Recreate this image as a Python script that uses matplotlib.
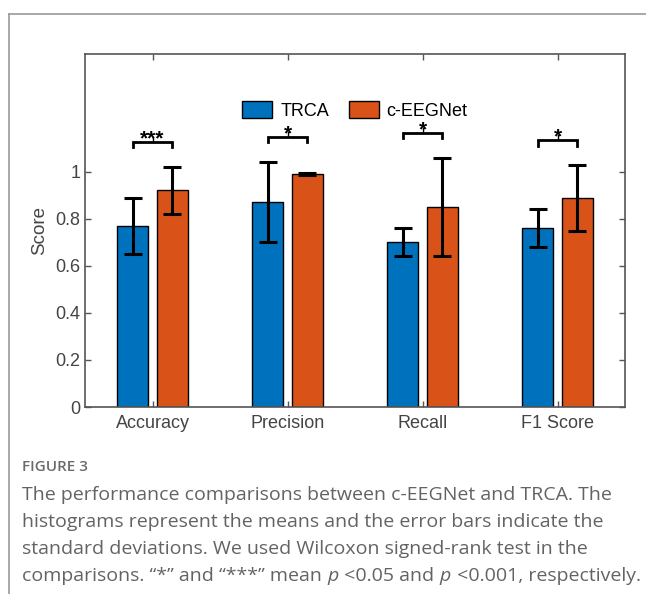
import numpy as np
import matplotlib
matplotlib.use("Agg")
import matplotlib.pyplot as plt
from matplotlib.lines import Line2D

# data
metrics = ["Accuracy", "Precision", "Recall", "F1 Score"]
trca_mean = [0.77, 0.87, 0.70, 0.76]
trca_std = [0.12, 0.17, 0.06, 0.08]
ceeg_mean = [0.92, 0.99, 0.85, 0.89]
ceeg_std = [0.10, 0.005, 0.21, 0.14]
sig_marks = ["***", "*", "*", "*"]
bracket_y = [1.128, 1.149, 1.166, 1.136]

blue = "#0072BD"
orange = "#D95319"
axcol = "#555555"

plt.rcParams["font.family"] = ["Liberation Sans", "DejaVu Sans"]

fig = plt.figure(figsize=(6.46, 5.94), dpi=100)
W, H = 646, 594

# card border (top and left)
fig.add_artist(Line2D([9 / W, 1], [1 - 14 / H, 1 - 14 / H], color="#9a9a9a", lw=1.2))
fig.add_artist(Line2D([9 / W, 9 / W], [0, 1 - 14 / H], color="#9a9a9a", lw=1.2))

ax = fig.add_axes([85 / W, 1 - 407 / H, 540 / W, 353 / H])

x = np.arange(1, len(metrics) + 1)
off = 0.145
bw = 0.23
err_kw = dict(ecolor="black", elinewidth=2.2, capsize=6.5, capthick=2.2)
ax.bar(x - off, trca_mean, bw, yerr=trca_std, color=blue, edgecolor="black",
       lw=1.0, label="TRCA", error_kw=err_kw)
ax.bar(x + off, ceeg_mean, bw, yerr=ceeg_std, color=orange, edgecolor="black",
       lw=1.0, label="c-EEGNet", error_kw=err_kw)

# significance brackets
tip = 0.025
for xc, yb, s in zip(x, bracket_y, sig_marks):
    ax.plot([xc - off, xc - off, xc + off, xc + off], [yb - tip, yb, yb, yb - tip],
            color="black", lw=2.0, solid_joinstyle="miter")
    ax.plot([xc, xc], [yb, yb + 0.02], color="black", lw=1.0)
    ax.text(xc, yb + 0.01, s, ha="center", va="center", fontsize=15,
            fontweight="bold", color="black")

ax.set_xlim(0.5, 4.5)
ax.set_ylim(0, 1.5)
ax.set_xticks(x)
ax.set_xticklabels(metrics)
ax.set_yticks([0, 0.2, 0.4, 0.6, 0.8, 1.0])
ax.set_yticklabels(["0", "0.2", "0.4", "0.6", "0.8", "1"])
ax.tick_params(direction="in", length=4, width=1, colors=axcol, labelsize=13,
               top=True, right=True, labelcolor="#444444")
ax.tick_params(axis="x", pad=6)
for sp in ax.spines.values():
    sp.set_color(axcol)
    sp.set_linewidth(1.2)
ax.set_ylabel("Score", fontsize=13.5, color="#444444", labelpad=5)

ax.legend(loc="center", bbox_to_anchor=(0.5, 1.26 / 1.5), ncol=2, frameon=False,
          fontsize=13, handlelength=1.65, handleheight=1.0, columnspacing=1.1,
          handletextpad=0.45, borderpad=0.2)

# caption
cap_font = ["Open Sans", "DejaVu Sans"]
cap_size = 14.0
cap_col = "#636363"
cap = ["The performance comparisons between c-EEGNet and TRCA. The",
       "histograms represent the means and the error bars indicate the",
       "standard deviations. We used Wilcoxon signed-rank test in the"]
last = [("comparisons. \u201c*\u201d and \u201c***\u201d mean ", "normal"),
        ("p", "italic"), (" <0.05 and ", "normal"), ("p", "italic"),
        (" <0.001, respectively.", "normal")]

fig.text(22 / W, 1 - 467 / H, "FIGURE 3", fontsize=11, color="#6b6b6b",
         family=cap_font, va="center", fontweight="semibold")
for k, line in enumerate(cap):
    fig.text(22 / W, 1 - (495 + 27 * k) / H, line, fontsize=cap_size, color=cap_col,
             family=cap_font, va="center")

# last line drawn piece by piece so the p's can be italic
renderer = fig.canvas.get_renderer()
xpos = 22
for piece, style in last:
    t = fig.text(xpos / W, 1 - (495 + 27 * 3) / H, piece, fontsize=cap_size,
                 color=cap_col, family=cap_font, va="center", style=style)
    xpos = t.get_window_extent(renderer).x1 + (1 if style == "italic" else 0)

fig.savefig("out.png", dpi=100)
